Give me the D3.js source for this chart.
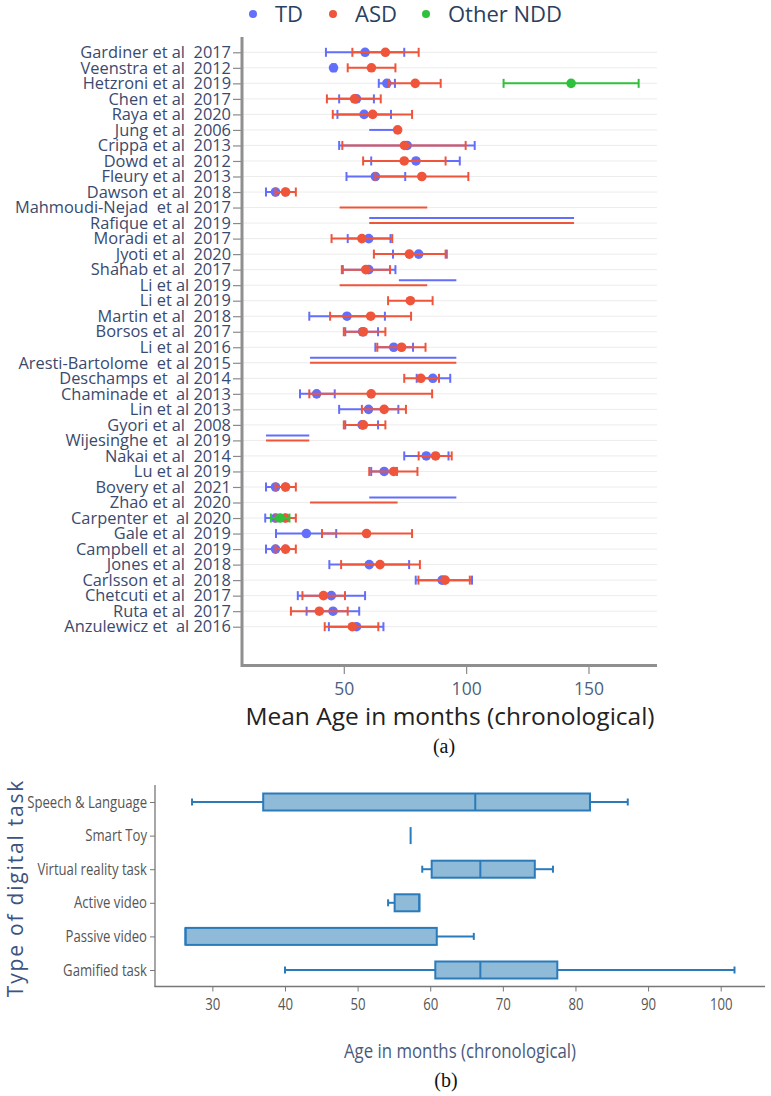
<!DOCTYPE html>
<html><head><meta charset="utf-8">
<script src="https://cdn.jsdelivr.net/npm/d3@7/dist/d3.min.js"></script>
<style>
body{margin:0;background:#fff;}
svg text{white-space:pre;}
</style></head>
<body>
<svg id="chart" width="771" height="1096"></svg>
<script>
// ---------- Panel (a) data ----------
const studies = ["Gardiner et al  2017","Veenstra et al  2012","Hetzroni et al  2019","Chen et al  2017","Raya et al  2020","Jung et al  2006","Crippa et al  2013","Dowd et al  2012","Fleury et al  2013","Dawson et al  2018","Mahmoudi-Nejad  et al 2017","Rafique et al  2019","Moradi et al  2017","Jyoti et al  2020","Shahab et al  2017","Li et al 2019","Li et al 2019","Martin et al  2018","Borsos et al  2017","Li et al 2016","Aresti-Bartolome  et al 2015","Deschamps et  al 2014","Chaminade et  al 2013","Lin et al 2013","Gyori et al  2008","Wijesinghe et  al 2019","Nakai et al  2014","Lu et al 2019","Bovery et al  2021","Zhao et al  2020","Carpenter et  al 2020","Gale et al  2019","Campbell et al  2019","Jones et al  2018","Carlsson et al  2018","Chetcuti et al  2017","Ruta et al  2017","Anzulewicz et  al 2016"];

// TD (mean with error bar low/high), null = not reported
const tdMean = [58.7,45.8,67.6,55.2,58.3,null,75.9,79.5,62.9,22.1,null,null,60.2,80.6,60.2,null,null,51.3,57.7,70.4,null,86.4,38.9,60.1,57.5,null,83.7,66.5,22.1,null,22.1,34.7,22.1,60.4,90.2,44.9,45.6,55.2];
const tdLo   = [42.7,45.3,64.3,48.1,47.4,null,48.1,61.2,51.1,18.2,null,null,51.6,70.1,49.6,null,null,35.9,50.6,62.9,null,79.8,32.1,48.1,50.6,null,74.7,61.2,18.2,null,17.9,22.3,18.2,44.1,79.4,31.2,34.8,43.9];
const tdHi   = [74.7,46.6,70.9,62.3,69.3,null,103.5,97.4,75.1,26.0,null,null,69.1,92.1,71.1,null,null,66.8,64.0,78.3,null,93.5,46.3,72.3,64.0,null,92.8,71.7,26.0,null,26.0,46.9,26.0,76.7,102.4,58.7,56.3,66.2];

// ASD
const asdMean = [67.0,61.3,79.2,54.4,61.8,72.0,74.8,74.7,81.9,26.2,null,null,57.4,76.8,59.0,null,77.2,61.0,58.0,73.6,null,81.5,61.2,66.5,58.0,null,87.5,70.4,26.2,null,26.2,59.3,26.2,64.8,91.4,41.7,40.0,53.5];
const asdLo   = [53.5,51.6,68.5,43.1,45.5,null,49.4,57.9,62.9,22.1,null,null,45.0,62.3,49.2,null,68.1,44.4,50.0,63.7,null,74.7,35.9,57.4,50.0,null,80.6,60.4,22.1,null,22.1,41.1,22.1,48.9,80.5,33.1,28.4,42.2];
const asdHi   = [80.6,71.1,89.6,65.1,77.9,null,99.8,91.6,100.9,30.4,null,null,69.8,91.6,68.9,null,86.3,77.5,67.0,83.4,null,88.9,86.1,75.4,67.0,null,94.1,80.1,30.4,null,30.4,77.9,30.4,81.1,101.5,50.5,51.6,64.1];

// Other NDD
const nddMean = [null,null,142.9,null,null,null,null,null,null,null,null,null,null,null,null,null,null,null,null,null,null,null,null,null,null,null,null,null,null,null,24.0,null,null,null,null,null,null,null];
const nddLo   = [null,null,115.3,null,null,null,null,null,null,null,null,null,null,null,null,null,null,null,null,null,null,null,null,null,null,null,null,null,null,null,20.2,null,null,null,null,null,null,null];
const nddHi   = [null,null,170.5,null,null,null,null,null,null,null,null,null,null,null,null,null,null,null,null,null,null,null,null,null,null,null,null,null,null,null,27.8,null,null,null,null,null,null,null];

// Age ranges only (no mean reported)
const tdRangeLo  = [null,null,null,null,null,60.4,null,null,null,null,null,60.4,null,null,null,72.5,null,null,null,null,36.2,null,null,null,null,18.2,null,null,null,60.4,null,null,null,null,null,null,null,null];
const tdRangeHi  = [null,null,null,null,null,72.0,null,null,null,null,null,144.1,null,null,null,96.0,null,null,null,null,96.0,null,null,null,null,35.9,null,null,null,96.0,null,null,null,null,null,null,null,null];
const asdRangeLo = [null,null,null,null,null,null,null,null,null,null,48.3,60.4,null,null,null,48.3,null,null,null,null,36.2,null,null,null,null,18.2,null,null,null,36.2,null,null,null,null,null,null,null,null];
const asdRangeHi = [null,null,null,null,null,null,null,null,null,null,84.1,144.1,null,null,null,84.1,null,null,null,null,96.0,null,null,null,null,35.9,null,null,null,72.0,null,null,null,null,null,null,null,null];

const xTicksA = [50,100,150];
const legendNames = ["TD","ASD","Other NDD"];

// ---------- Panel (b) data ----------
const tasks = ["Speech & Language","Smart Toy","Virtual reality task","Active video","Passive video","Gamified task"];
const boxMin = [27.2,57.3,58.9,54.2,26.3,40.0];
const boxQ1  = [37.0,57.3,60.2,55.1,26.3,60.7];
const boxMed = [66.2,57.3,66.9,58.5,26.3,66.9];
const boxQ3  = [82.0,57.3,74.4,58.5,60.9,77.5];
const boxMax = [87.2,57.3,76.9,58.5,66.0,101.9];
const xTicksB = [30,40,50,60,70,80,90,100];

// ---------- Drawing ----------
const svg = d3.select("#chart");
const colors = {TD:"#636efa", ASD:"#ef553b", NDD:"#2fc13b"};
const sans = "'Open Sans',sans-serif";

// Panel (a)
const xA = d3.scaleLinear().domain([8.4,178]).range([242,657]);
const yA = d3.scaleLinear().domain([0,37]).range([52.3,626.7]);
const gA = svg.append("g");

gA.selectAll("line.grid").data(studies).join("line")
  .attr("x1",243).attr("x2",657)
  .attr("y1",(d,i)=>yA(i)).attr("y2",(d,i)=>yA(i))
  .attr("stroke","#ececec").attr("stroke-width",1);

const yAxisA = d3.axisLeft(yA).tickValues(d3.range(studies.length)).tickFormat(i=>studies[i]).tickSize(8).tickPadding(2);
const gy = gA.append("g").attr("transform","translate(241,0)").call(yAxisA);
gy.select(".domain").remove();
gy.selectAll(".tick line").attr("stroke","#8a8a8a").attr("stroke-width",1.2);
gy.selectAll(".tick text").attr("fill","#3a4a6e").attr("font-family",sans).attr("font-size",16.4);

const xAxisA = d3.axisBottom(xA).tickValues(xTicksA).tickSize(8).tickPadding(9);
const gx = gA.append("g").attr("transform","translate(0,666)").call(xAxisA);
gx.select(".domain").remove();
gx.selectAll(".tick line").attr("stroke","#8a8a8a").attr("stroke-width",1.2);
gx.selectAll(".tick text").attr("fill","#4d5f80").attr("font-family",sans).attr("font-size",17.5);

gA.append("line").attr("x1",242).attr("x2",242).attr("y1",37).attr("y2",667).attr("stroke","#8f8f8f").attr("stroke-width",3);
gA.append("line").attr("x1",241).attr("x2",657).attr("y1",665.5).attr("y2",665.5).attr("stroke","#8f8f8f").attr("stroke-width",3);

function drawRanges(lo,hi,color,offset){
  const idx = d3.range(studies.length).filter(i=>lo[i]!==null);
  gA.append("g").selectAll("line").data(idx).join("line")
    .attr("x1",i=>xA(lo[i])).attr("x2",i=>xA(hi[i]))
    .attr("y1",i=>yA(i)+offset(i)).attr("y2",i=>yA(i)+offset(i))
    .attr("stroke",color).attr("stroke-width",2);
}
drawRanges(tdRangeLo,tdRangeHi,colors.TD,i=>(i===5?0:-5));
drawRanges(asdRangeLo,asdRangeHi,colors.ASD,()=>0);

function drawSeries(mean,lo,hi,color){
  const g = gA.append("g");
  const idx = d3.range(studies.length).filter(i=>mean[i]!==null);
  const eb = idx.filter(i=>lo[i]!==null);
  g.selectAll("line.bar").data(eb).join("line")
    .attr("x1",i=>xA(lo[i])).attr("x2",i=>xA(hi[i]))
    .attr("y1",i=>yA(i)).attr("y2",i=>yA(i))
    .attr("stroke",color).attr("stroke-width",2);
  ["lo","hi"].forEach(k=>{
    const arr = k==="lo"?lo:hi;
    g.selectAll("line.cap"+k).data(eb).join("line")
      .attr("x1",i=>xA(arr[i])).attr("x2",i=>xA(arr[i]))
      .attr("y1",i=>yA(i)-4.5).attr("y2",i=>yA(i)+4.5)
      .attr("stroke",color).attr("stroke-width",2);
  });
  g.selectAll("circle").data(idx).join("circle")
    .attr("cx",i=>xA(mean[i])).attr("cy",i=>yA(i)).attr("r",4.8)
    .attr("fill",color);
}
drawSeries(tdMean,tdLo,tdHi,colors.TD);
drawSeries(asdMean,asdLo,asdHi,colors.ASD);
drawSeries(nddMean,nddLo,nddHi,colors.NDD);

const legX = [253,333,426];
const legCols = [colors.TD,colors.ASD,colors.NDD];
const leg = svg.append("g");
legendNames.forEach((n,k)=>{
  leg.append("circle").attr("cx",legX[k]).attr("cy",14).attr("r",4).attr("fill",legCols[k]);
  leg.append("text").attr("x",legX[k]+22).attr("y",22).text(n)
    .attr("fill","#2a3f5f").attr("font-family",sans).attr("font-size",22);
});

svg.append("text").attr("x",450).attr("y",725).attr("text-anchor","middle")
  .attr("font-family",sans).attr("font-size",24.5).attr("fill","#222")
  .text("Mean Age in months (chronological)");
svg.append("text").attr("x",444).attr("y",753).attr("text-anchor","middle")
  .attr("font-family","'Liberation Serif','Times New Roman',serif").attr("font-size",20).attr("fill","#111")
  .text("(a)");

// Panel (b)
const xB = d3.scaleLinear().domain([22.1,106.1]).range([155,765]);
const yB = d3.scaleLinear().domain([0,5]).range([802,970]);
const gB = svg.append("g");
const cond = 0.82;

const yAxisB = d3.axisLeft(yB).tickValues(d3.range(tasks.length)).tickFormat(i=>tasks[i]).tickSize(5).tickPadding(3);
const gyB = gB.append("g").attr("transform","translate(155,0)").call(yAxisB);
gyB.select(".domain").remove();
gyB.selectAll(".tick line").attr("stroke","#777");
gyB.selectAll(".tick text").attr("fill","#555").attr("font-family",sans).attr("font-size",16)
  .attr("x",-8/cond).attr("transform",`scale(${cond},1)`);

const xAxisB = d3.axisBottom(xB).tickValues(xTicksB).tickSize(5).tickPadding(7);
const gxB = gB.append("g").attr("transform","translate(0,986.5)").call(xAxisB);
gxB.select(".domain").remove();
gxB.selectAll(".tick line").attr("stroke","#777");
gxB.selectAll(".tick text").attr("fill","#555").attr("font-family",sans).attr("font-size",16.5)
  .attr("transform",`scale(0.8,1)`);

gB.append("line").attr("x1",155).attr("x2",155).attr("y1",785).attr("y2",987).attr("stroke","#777").attr("stroke-width",1.3);
gB.append("line").attr("x1",154.5).attr("x2",765).attr("y1",986.5).attr("y2",986.5).attr("stroke","#777").attr("stroke-width",1.3);

const boxBlue = "#2b7bba", boxFill = "#8fbbd9";
const bh = 8.5, ch = 3.5;
tasks.forEach((t,i)=>{
  const y = yB(i);
  const g = gB.append("g");
  if(boxMin[i] < boxQ1[i]){
    g.append("line").attr("x1",xB(boxMin[i])).attr("x2",xB(boxQ1[i])).attr("y1",y).attr("y2",y).attr("stroke",boxBlue).attr("stroke-width",2);
    g.append("line").attr("x1",xB(boxMin[i])).attr("x2",xB(boxMin[i])).attr("y1",y-ch).attr("y2",y+ch).attr("stroke",boxBlue).attr("stroke-width",2);
  }
  if(boxMax[i] > boxQ3[i]){
    g.append("line").attr("x1",xB(boxQ3[i])).attr("x2",xB(boxMax[i])).attr("y1",y).attr("y2",y).attr("stroke",boxBlue).attr("stroke-width",2);
    g.append("line").attr("x1",xB(boxMax[i])).attr("x2",xB(boxMax[i])).attr("y1",y-ch).attr("y2",y+ch).attr("stroke",boxBlue).attr("stroke-width",2);
  }
  if(boxQ3[i] > boxQ1[i]){
    g.append("rect").attr("x",xB(boxQ1[i])).attr("y",y-bh).attr("width",xB(boxQ3[i])-xB(boxQ1[i])).attr("height",2*bh)
      .attr("fill",boxFill).attr("stroke",boxBlue).attr("stroke-width",2);
  }
  g.append("line").attr("x1",xB(boxMed[i])).attr("x2",xB(boxMed[i])).attr("y1",y-bh).attr("y2",y+bh).attr("stroke",boxBlue).attr("stroke-width",2);
});

svg.append("text").attr("transform","translate(23,888) rotate(-90)").attr("text-anchor","middle")
  .attr("font-family",sans).attr("font-size",21).attr("letter-spacing",1.8).attr("fill","#3d5380")
  .text("Type of digital task");
svg.append("text").attr("transform","translate(460,1058) scale(0.82,1)").attr("text-anchor","middle")
  .attr("font-family",sans).attr("font-size",20.5).attr("fill","#4a5a7a")
  .text("Age in months (chronological)");
svg.append("text").attr("x",446).attr("y",1087).attr("text-anchor","middle")
  .attr("font-family","'Liberation Serif','Times New Roman',serif").attr("font-size",20).attr("fill","#111")
  .text("(b)");
</script>
</body></html>
